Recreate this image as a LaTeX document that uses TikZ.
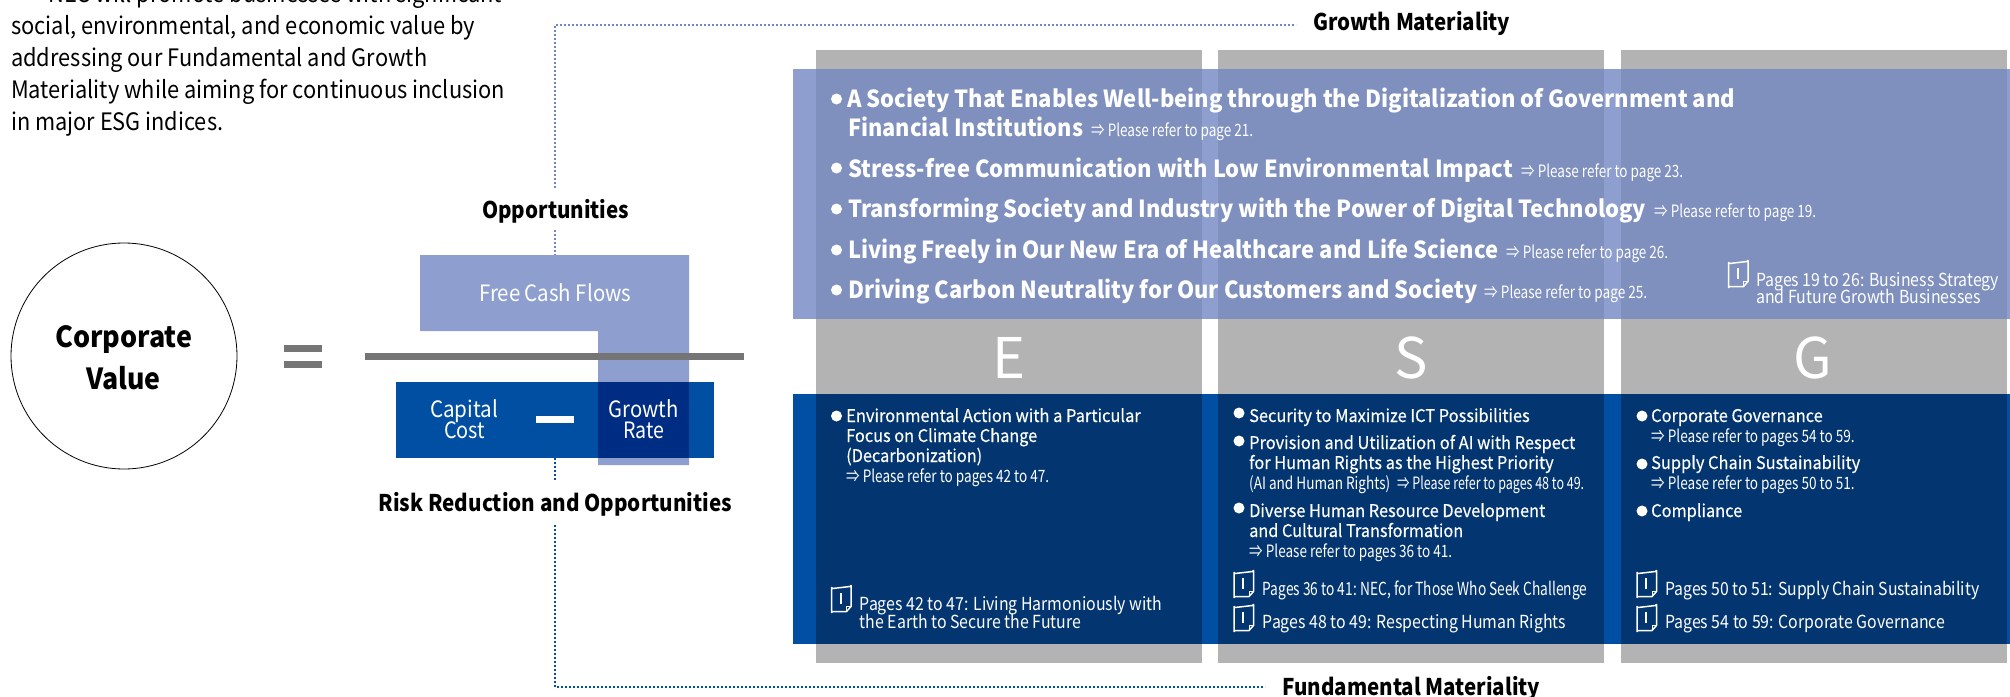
\documentclass[tikz,border=0pt]{standalone}
\usepackage{fontspec}
\usepackage{graphicx}
\setmainfont{Noto Sans CJK JP}
\newfontfamily\medf[FakeBold=0.35]{Noto Sans CJK JP}
\definecolor{lav}{HTML}{8E9FCF}
\definecolor{lavgray}{HTML}{7F90BF}
\definecolor{gr}{HTML}{B2B3B2}
\definecolor{blu}{HTML}{004FA3}
\definecolor{blugray}{HTML}{033670}
\definecolor{bluelav}{HTML}{002D84}
\definecolor{barg}{HTML}{757575}
\definecolor{dotA}{HTML}{6E88C6}
\definecolor{dotB}{HTML}{004FA3}
\newcounter{tc}
% \T{x}{baseline}{x end}{font}{colour}{text}
\newcommand\T[6]{\stepcounter{tc}\pgfmathsetmacro\myw{#3-#1}%
 \node[anchor=base west,inner sep=0pt,text=#5] (t\arabic{tc}) at (#1,#2) {\resizebox{\myw pt}{\height}{#4{}#6}};}
\newcommand\B[2]{\fill[white] (#1,#2) circle (5.5pt);}
\newcommand\Doc[2]{\begin{scope}[shift={(#1,#2)}]
 \draw[white,line width=1.5pt,line join=round] (15.5,25.5) -- (1.5,25.5) arc[start angle=-90,end angle=-180,radius=1] -- (0.5,1.5) arc[start angle=180,end angle=90,radius=1] -- (19,0.5) arc[start angle=90,end angle=0,radius=1] -- (20,20.5) -- cycle;
 \draw[white,line width=1pt] (20,20.5) -- (15.5,20.5) -- (15.5,25.5);
 \draw[white,line width=2pt] (9.5,7) -- (9.5,18);
 \end{scope}}
\tikzset{
 dotA/.style={draw=dotA,line width=2pt,dash pattern=on 2pt off 2pt},
 dotB/.style={draw=dotB,line width=2pt,dash pattern=on 2pt off 2pt},
}
\begin{document}
\begin{tikzpicture}[x=1pt,y=-1pt]
\useasboundingbox (0,0) rectangle (2010,696);
% band and columns
\fill[lav] (793,69) rectangle (2010,319);
\fill[blu] (793,394) rectangle (2010,644);
\foreach \a/\b in {816/1202,1218/1604,1621/2007}{
 \fill[gr] (\a,50) rectangle (\b,663);
 \fill[lavgray] (\a,69) rectangle (\b,319);
 \fill[blugray] (\a,394) rectangle (\b,644);
}
% equation
\node[draw=black,line width=0.8pt,circle,minimum size=226pt,inner sep=0pt] (cv) at (124,356) {};
\T{55}{347.5}{192}{\fontsize{29}{29}\selectfont\bfseries}{black}{Corporate}
\T{86}{389}{160.5}{\fontsize{29}{29}\selectfont\bfseries}{black}{Value}
\fill[barg] (284,345) rectangle (322,352);
\fill[barg] (284,361) rectangle (322,368);
\fill[lav] (420,255) -- (689,255) -- (689,465) -- (598,465) -- (598,331) -- (420,331) -- cycle;
\coordinate (fcftop) at (555,255);
\fill[barg] (365,353) rectangle (744,360);
\fill[blu] (396,382) rectangle (714,458);
\fill[bluelav] (598,382) rectangle (689,458);
\coordinate (ccbot) at (555,458);
\fill[white] (536,416) rectangle (574,423);
\T{479}{301}{631}{\fontsize{22.5}{22.5}\selectfont}{white}{Free Cash Flows}
\T{430}{417}{498}{\fontsize{22.5}{22.5}\selectfont}{white}{Capital}
\T{444}{438}{485}{\fontsize{22.5}{22.5}\selectfont}{white}{Cost}
\T{608.5}{417}{678.5}{\fontsize{22.5}{22.5}\selectfont}{white}{Growth}
\T{623}{438}{664}{\fontsize{22.5}{22.5}\selectfont}{white}{Rate}
% labels with dotted connectors
\T{482}{218}{629}{\fontsize{23}{23}\selectfont\bfseries}{black}{Opportunities}
\T{1313}{30}{1510}{\fontsize{23}{23}\selectfont\bfseries}{black}{Growth Materiality}
\T{378.5}{511.5}{732}{\fontsize{23}{23}\selectfont\bfseries}{black}{Risk Reduction and Opportunities}
\T{1282}{695}{1540}{\fontsize{23}{23}\selectfont\bfseries}{black}{Fundamental Materiality}
\coordinate (gmend) at (1296,25);
\coordinate (fmend) at (1265,687);
\coordinate (oppup) at (555,188);
\coordinate (oppdown) at (555,230);
\coordinate (rrup) at (555,481);
\coordinate (rrdown) at (555,525);
\draw[dotA] (oppup) |- (gmend);
\draw[dotA] (oppdown) -- (fcftop);
\draw[dotB] (ccbot) -- (rrup);
\draw[dotB] (rrdown) |- (fmend);
% intro
\newcommand\pf{\fontsize{24}{24}\selectfont}
\T{48}{2.5}{502}{\pf}{black}{NEC will promote businesses with significant}
\T{11}{34.5}{475}{\pf}{black}{social, environmental, and economic value by}
\T{11}{66.5}{427}{\pf}{black}{addressing our Fundamental and Growth}
\T{11}{98.5}{505}{\pf}{black}{Materiality while aiming for continuous inclusion}
\T{11}{130.5}{223}{\pf}{black}{in major ESG indices.}
% upper band
\newcommand\hf{\fontsize{23.5}{23.5}\selectfont\bfseries}
\newcommand\rf{\fontsize{17}{17}\selectfont}
\newcommand\nf{\fontsize{18}{18}\selectfont}
\newcommand\mf{\fontsize{17.5}{17.5}\selectfont\medf}
\B{836.5}{99}\B{836.5}{168}\B{836.5}{209}\B{836.5}{250}\B{836.5}{290}
\T{847}{107}{1735}{\hf}{white}{A Society That Enables Well-being through the Digitalization of Government and}
\T{848}{136.5}{1083}{\hf}{white}{Financial Institutions}
\T{1091}{136.5}{1253}{\rf}{white}{⇒ Please refer to page 21.}
\T{848}{177}{1513}{\hf}{white}{Stress-free Communication with Low Environmental Impact}
\T{1521}{177}{1683}{\rf}{white}{⇒ Please refer to page 23.}
\T{848}{217.5}{1646}{\hf}{white}{Transforming Society and Industry with the Power of Digital Technology}
\T{1654}{217.5}{1816}{\rf}{white}{⇒ Please refer to page 19.}
\T{848}{258}{1498}{\hf}{white}{Living Freely in Our New Era of Healthcare and Life Science}
\T{1506}{258}{1668}{\rf}{white}{⇒ Please refer to page 26.}
\T{848}{298.5}{1477}{\hf}{white}{Driving Carbon Neutrality for Our Customers and Society}
\T{1484}{298.5}{1647}{\rf}{white}{⇒ Please refer to page 25.}
\Doc{1728}{261}
\T{1756}{286}{1999}{\nf}{white}{Pages 19 to 26: Business Strategy}
\T{1756}{303}{1980.5}{\nf}{white}{and Future Growth Businesses}
% ESG
\node[anchor=base,inner sep=0pt,text=white] (E) at (1009,378) {\fontsize{56}{56}\selectfont E};
\node[anchor=base,inner sep=0pt,text=white] (S) at (1411,378) {\fontsize{56}{56}\selectfont S};
\node[anchor=base,inner sep=0pt,text=white] (G) at (1813,378) {\fontsize{56}{56}\selectfont G};
% E column
\B{836.5}{416}
\T{846}{422}{1140.5}{\mf}{white}{Environmental Action with a Particular}
\T{846}{442}{1037}{\mf}{white}{Focus on Climate Change}
\T{846}{462}{982}{\mf}{white}{(Decarbonization)}
\T{846}{482}{1049}{\rf}{white}{⇒ Please refer to pages 42 to 47.}
\Doc{831}{586}
\T{859.5}{610}{1162}{\nf}{white}{Pages 42 to 47: Living Harmoniously with}
\T{859.5}{628}{1081}{\nf}{white}{the Earth to Secure the Future}
% S column
\B{1239}{413}\B{1239}{441}\B{1239}{508}
\T{1249}{422}{1529.5}{\mf}{white}{Security to Maximize ICT Possibilities}
\T{1249}{449}{1575}{\mf}{white}{Provision and Utilization of AI with Respect}
\T{1249}{469}{1553.5}{\mf}{white}{for Human Rights as the Highest Priority}
\T{1249}{489}{1390}{\rf}{white}{(AI and Human Rights)}
\T{1397}{489}{1584}{\rf}{white}{⇒ Please refer to pages 48 to 49.}
\T{1249}{517}{1545}{\mf}{white}{Diverse Human Resource Development}
\T{1249}{537}{1463}{\mf}{white}{and Cultural Transformation}
\T{1249}{557}{1452}{\rf}{white}{⇒ Please refer to pages 36 to 41.}
\Doc{1233.5}{571}\Doc{1233.5}{605}
\T{1262.5}{595}{1587}{\nf}{white}{Pages 36 to 41: NEC, for Those Who Seek Challenge}
\T{1262.5}{628}{1566}{\nf}{white}{Pages 48 to 49: Respecting Human Rights}
% G column
\B{1642}{416}\B{1642}{464}\B{1642}{511}
\T{1651}{422}{1822.5}{\mf}{white}{Corporate Governance}
\T{1651}{442}{1854.5}{\rf}{white}{⇒ Please refer to pages 54 to 59.}
\T{1651}{469}{1860}{\mf}{white}{Supply Chain Sustainability}
\T{1651}{489}{1854.5}{\rf}{white}{⇒ Please refer to pages 50 to 51.}
\T{1651}{517}{1742}{\mf}{white}{Compliance}
\Doc{1636.5}{571}\Doc{1636.5}{605}
\T{1665}{595}{1979}{\nf}{white}{Pages 50 to 51: Supply Chain Sustainability}
\T{1665}{628}{1945}{\nf}{white}{Pages 54 to 59: Corporate Governance}
\end{tikzpicture}
\end{document}
